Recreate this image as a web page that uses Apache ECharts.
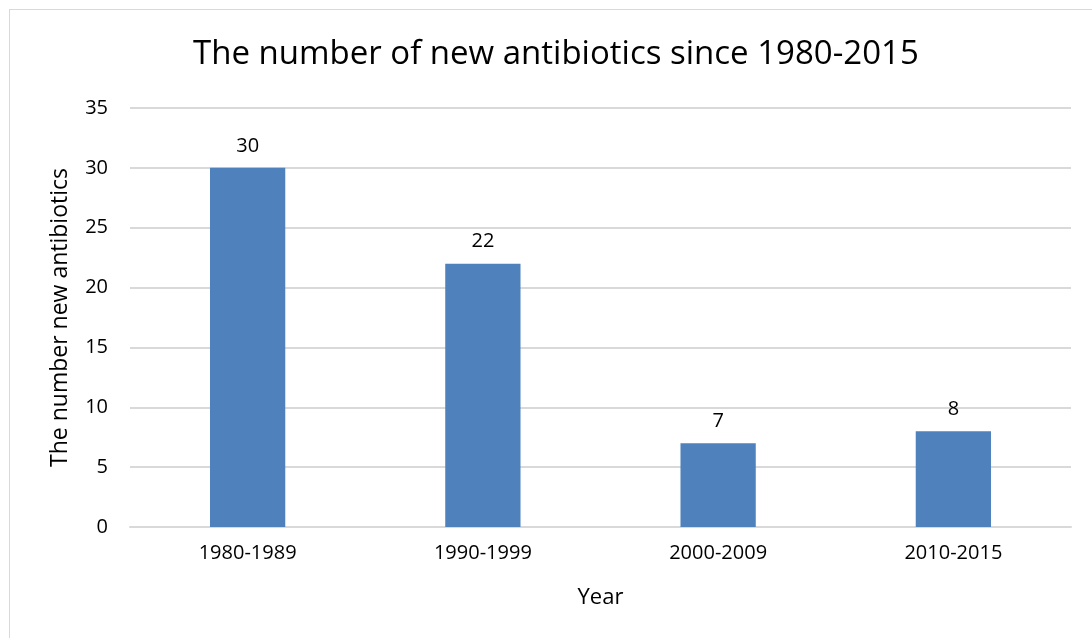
<!DOCTYPE html>
<html>
<head>
<meta charset="utf-8">
<script src="https://cdn.jsdelivr.net/npm/echarts@6/dist/echarts.min.js"></script>
<style>
  html, body { margin: 0; padding: 0; background: #fff; }
  #frame { position: absolute; left: 9px; top: 9px; width: 1100px; height: 640px;
           border-top: 1px solid #d9d9d9; border-left: 1px solid #d9d9d9; }
  #chart { width: 1092px; height: 638px; }
</style>
</head>
<body>
<div id="frame"></div>
<div id="chart"></div>
<script>
// 数据
var categories = ["1980-1989", "1990-1999", "2000-2009", "2010-2015"];
var antibiotics = [30, 22, 7, 8];
var yTicks = [0, 5, 10, 15, 20, 25, 30, 35];

var chart = echarts.init(document.getElementById("chart"));
var font = "'Open Sans', 'Noto Sans', sans-serif";

chart.setOption({
  animation: false,
  title: {
    text: "The number of new antibiotics since 1980-2015",
    left: 188,
    top: 33,
    textStyle: { fontFamily: font, fontSize: 33, fontWeight: "normal", color: "#000" }
  },
  grid: { left: 130, right: 21, top: 108, bottom: 111 },
  xAxis: {
    type: "category",
    data: categories,
    name: "Year",
    nameLocation: "middle",
    nameGap: 60,
    nameTextStyle: { fontFamily: font, fontSize: 22, color: "#000" },
    axisLine: { lineStyle: { color: "#d9d9d9", width: 2 } },
    axisTick: { show: false },
    axisLabel: { fontFamily: font, fontSize: 20, color: "#000", margin: 16 }
  },
  yAxis: {
    type: "value",
    min: yTicks[0],
    max: yTicks[yTicks.length - 1],
    interval: 5,
    name: "The number new antibiotics",
    nameLocation: "middle",
    nameGap: 58,
    nameTextStyle: { fontFamily: font, fontSize: 23, color: "#000" },
    axisLine: { show: false },
    axisTick: { show: false },
    axisLabel: { fontFamily: font, fontSize: 20, color: "#000", margin: 22 },
    splitLine: { lineStyle: { color: "#d9d9d9", width: 2 } }
  },
  series: [
    {
      type: "bar",
      data: antibiotics,
      barWidth: "32%",
      itemStyle: { color: "#4f81bd" },
      label: {
        show: true,
        position: "top",
        distance: 12,
        fontFamily: font,
        fontSize: 20,
        color: "#000"
      }
    }
  ]
});
</script>
</body>
</html>
